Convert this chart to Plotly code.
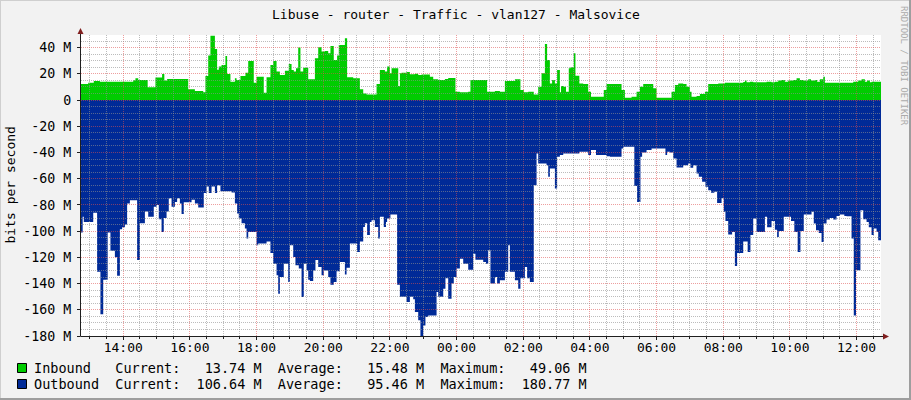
import pandas as pd
import plotly.graph_objects as go

# ---------------- data (values in Mbit/s, time in minutes after start) ----------------
START = pd.Timestamp("2024-05-14 12:44")
SPAN_MIN = 1440

in_min = [0, 13, 23, 34, 94, 98, 103, 120, 134, 146, 150, 155, 193, 205, 220, 224, 229, 233, 241, 245,
          248, 253, 260, 263, 269, 277, 280, 287, 296, 301, 311, 316, 329, 334, 341, 346, 352, 358, 367, 374,
          379, 383, 387, 391, 395, 400, 409, 421, 427, 433, 439, 445, 449, 455, 461, 464, 475, 479, 490, 502,
          508, 514, 532, 538, 547, 551, 556, 559, 571, 574, 577, 586, 592, 601, 607, 613, 628, 634, 643, 655,
          661, 674, 682, 697, 701, 731, 745, 754, 763, 781, 791, 797, 805, 815, 823, 829, 835, 839, 844, 848,
          853, 857, 862, 864, 869, 873, 878, 881, 887, 890, 897, 904, 913, 918, 941, 946, 973, 979, 991, 1000,
          1006, 1012, 1030, 1036, 1063, 1069, 1075, 1084, 1090, 1096, 1099, 1108, 1114, 1123, 1129, 1147, 1159, 1192, 1195, 1198,
          1204, 1210, 1234, 1243, 1249, 1255, 1261, 1267, 1273, 1282, 1288, 1294, 1300, 1309, 1314, 1321, 1325, 1330, 1336, 1339,
          1390, 1399, 1405, 1411, 1415, 1420, 1423, 1440]
in_val = [12.2, 13.2, 14.5, 14.0, 15.0, 16.6, 15.3, 9.7, 17.1, 19.9, 14.8, 16.0, 8.2, 6.9, 6.0, 18.3, 34.0, 49.0, 39.0, 23.0,
          25.5, 26.7, 33.6, 19.9, 14.0, 16.6, 15.3, 18.3, 20.9, 29.8, 13.2, 17.8, 5.6, 17.3, 26.7, 29.8, 21.7, 19.1, 22.4, 27.5,
          22.9, 21.7, 24.2, 40.0, 21.7, 24.7, 15.8, 31.8, 40.2, 37.0, 37.4, 35.7, 41.3, 30.6, 33.9, 42.0, 47.1, 17.3, 16.6, 8.2,
          5.0, 4.3, 12.2, 22.9, 21.7, 25.5, 20.4, 24.2, 10.7, 20.4, 20.9, 21.4, 19.6, 20.1, 19.1, 19.4, 17.8, 15.8, 15.3, 16.0,
          16.8, 6.4, 5.9, 6.4, 15.3, 6.4, 6.9, 6.4, 14.5, 15.8, 7.6, 5.9, 6.4, 4.3, 10.2, 20.4, 42.8, 30.6, 12.7, 15.3,
          12.7, 22.9, 5.9, 10.7, 10.2, 6.4, 24.2, 25.0, 35.7, 18.6, 12.7, 12.2, 6.4, 2.5, 7.6, 12.2, 7.6, 1.8, 2.5, 6.4,
          10.2, 12.2, 8.9, 1.8, 6.4, 11.5, 12.7, 12.2, 10.2, 6.4, 2.5, 3.0, 4.6, 6.4, 12.2, 12.7, 13.2, 13.7, 14.8, 13.5,
          14.0, 13.5, 14.0, 13.5, 14.0, 14.8, 15.3, 14.0, 14.8, 15.3, 16.6, 15.3, 14.8, 15.8, 14.8, 15.3, 14.0, 15.8, 17.8, 13.2,
          14.0, 14.8, 15.8, 14.0, 14.8, 13.5, 14.0, 13.7]

out_min = [0, 3, 5, 22, 29, 35, 40, 48, 53, 61, 65, 70, 74, 79, 83, 88, 101, 106, 115, 121,
           131, 136, 140, 145, 149, 154, 158, 163, 169, 173, 178, 181, 185, 199, 205, 211, 221, 226, 230, 235,
           241, 245, 251, 271, 277, 281, 284, 289, 295, 298, 301, 316, 319, 334, 341, 346, 352, 355, 358, 365,
           373, 376, 382, 386, 392, 397, 401, 406, 409, 412, 418, 422, 427, 433, 437, 445, 449, 455, 460, 466,
           475, 478, 484, 497, 502, 508, 511, 515, 520, 523, 529, 535, 538, 545, 549, 551, 557, 569, 574, 586,
           592, 598, 601, 607, 611, 616, 620, 625, 640, 643, 652, 656, 661, 667, 671, 676, 682, 688, 697, 706,
           710, 724, 729, 733, 737, 745, 749, 754, 763, 769, 772, 781, 787, 791, 799, 803, 808, 815, 820, 823,
           838, 841, 844, 853, 857, 862, 868, 897, 913, 918, 927, 946, 952, 973, 976, 996, 1001, 1007, 1010, 1018,
           1027, 1052, 1055, 1060, 1066, 1072, 1084, 1093, 1097, 1102, 1108, 1112, 1118, 1124, 1129, 1134, 1140, 1145, 1153, 1157,
           1160, 1165, 1172, 1177, 1181, 1192, 1200, 1205, 1210, 1216, 1231, 1235, 1243, 1249, 1253, 1256, 1265, 1278, 1284, 1290,
           1295, 1301, 1315, 1319, 1323, 1328, 1333, 1337, 1342, 1348, 1354, 1360, 1366, 1374, 1378, 1387, 1391, 1395, 1403, 1408,
           1414, 1418, 1423, 1427, 1432, 1435, 1440]
out_val = [-101, -89, -93, -86, -131, -163.5, -137, -101, -115, -120, -134, -98.6, -97, -95, -79, -76.4, -122, -94, -85, -89,
           -81.5, -80, -91, -100.6, -90, -85, -75, -81.5, -77.7, -75, -79, -87, -78, -76, -79, -82, -71, -66, -71, -66,
           -71, -65, -69.5, -70.5, -79, -86.6, -90.4, -94, -98, -105.7, -100.6, -110.8, -109.5, -108, -116.7, -124.8, -133.7, -147.7, -135, -124.8,
           -138.8, -110.8, -119.7, -126, -128.6, -150.3, -124.8, -130, -137, -138, -130, -122, -127.4, -133.7, -130, -135, -140.9, -138.8, -130.7, -123.5,
           -133, -128, -109.5, -115.9, -108, -96.8, -94, -103, -93, -91.7, -96.8, -105.7, -89, -96.8, -93, -90.4, -87.4, -141, -150, -154,
           -150, -152, -161.7, -168, -180.8, -172, -165.6, -164.3, -146.5, -150, -143.9, -136, -151.6, -140, -135, -128.6, -121, -124.8, -129.4, -117.2,
           -121.8, -123.5, -124.8, -114.6, -140, -135, -140, -137.5, -131, -110.8, -131, -137.5, -143.9, -136, -127.4, -136, -138.8, -65, -40.8, -48.4,
           -49.7, -58.6, -52.2, -67.5, -43.3, -42, -40.8, -39.5, -42, -38.2, -42, -42.8, -43.3, -37, -35.7, -65.5, -77.7, -43.3, -40, -38.2,
           -37, -42, -39.5, -40, -44.6, -51.5, -49.7, -48.4, -51.7, -49.7, -56, -58.6, -62.4, -66.2, -68.8, -70.8, -70, -78.5, -75, -85.3,
           -92.2, -102.6, -100.6, -126.6, -116.7, -108, -115.9, -103, -90.4, -100.6, -89, -97, -92.2, -99, -104.4, -100, -89, -92.2, -100.6, -115.9,
           -100, -87.4, -85.3, -94.2, -99.3, -101.4, -108.3, -94.2, -91.2, -90, -91.2, -88.5, -87.4, -88.5, -88.7, -105.7, -164.3, -129.9, -84, -90.9,
           -93, -97, -103, -98, -100.6, -107, -107]

y_tick_vals = [-180, -160, -140, -120, -100, -80, -60, -40, -20, 0, 20, 40]
y_tick_text = ["-180 M", "-160 M", "-140 M", "-120 M", "-100 M", "-80 M", "-60 M", "-40 M", "-20 M", "0", "20 M", "40 M"]

title_text = "Libuse - router - Traffic - vlan127 - Malsovice"
legend_rows = [
    ("Inbound", "#00CC00", "13.74", "15.48", "49.06"),
    ("Outbound", "#002A97", "106.64", "95.46", "180.77"),
]

# ---------------- layout geometry ----------------
W, H = 911, 400
L, R, T, B = 81, 881, 35, 336
Y_TOP = 49.6
MONO = "DejaVu Sans Mono"


def px(x):
    return (x - L) / (R - L)


def py(y):
    return (B - y) / (B - T)


def crisp(v):
    return round(v - 0.5) + 0.5


END = START + pd.Timedelta(minutes=SPAN_MIN)
in_t = START + pd.to_timedelta(in_min, unit="min")
out_t = START + pd.to_timedelta(out_min, unit="min")

fig = go.Figure()
fig.add_trace(go.Scatter(x=in_t, y=in_val, mode="lines", line=dict(width=0, shape="hv", color="#00CC00"),
                         fill="tozeroy", fillcolor="#00CC00", hoverinfo="skip", showlegend=False))
fig.add_trace(go.Scatter(x=out_t, y=out_val, mode="lines", line=dict(width=0, shape="hv", color="#002A97"),
                         fill="tozeroy", fillcolor="#002A97", hoverinfo="skip", showlegend=False))

shapes = []
MINOR = "rgba(143,143,143,0.6)"
MAJOR = "rgba(222,79,79,0.55)"
DASH = "1px,1px"
t = START.ceil("30min")
while t < END:
    major = t.minute == 0 and t.hour % 2 == 0
    gx = crisp(L + (t - START) / pd.Timedelta(minutes=SPAN_MIN) * (R - L))
    shapes.append(dict(type="line", xref="paper", yref="paper", x0=px(gx), x1=px(gx), y0=0, y1=1, layer="above",
                       line=dict(color=MAJOR if major else MINOR, width=1, dash=DASH)))
    t += pd.Timedelta(minutes=30)
for v in range(-175, 50, 5):
    gy = crisp(T + (Y_TOP - v) / (Y_TOP + 180) * (B - T))
    shapes.append(dict(type="line", xref="paper", yref="paper", x0=0, x1=1, y0=py(gy), y1=py(gy), layer="above",
                       line=dict(color=MAJOR if v % 20 == 0 else MINOR, width=1, dash=DASH)))

AX = "#1f1f1f"
ARROW = "#801f1f"
# axis lines
shapes.append(dict(type="line", xref="paper", yref="paper", x0=px(80.5), x1=px(80.5), y0=py(336.5), y1=py(31),
                   layer="above", line=dict(color=AX, width=1)))
shapes.append(dict(type="line", xref="paper", yref="paper", x0=px(80.5), x1=px(885), y0=py(336.5), y1=py(336.5),
                   layer="above", line=dict(color=AX, width=1)))
# arrows
shapes.append(dict(type="path", xref="paper", yref="paper", layer="above",
                   path=f"M {px(77.5)} {py(34)} L {px(80.5)} {py(28)} L {px(83.5)} {py(34)} Z",
                   fillcolor=ARROW, line=dict(color=ARROW, width=0)))
shapes.append(dict(type="path", xref="paper", yref="paper", layer="above",
                   path=f"M {px(883)} {py(333.5)} L {px(889)} {py(336.5)} L {px(883)} {py(339.5)} Z",
                   fillcolor=ARROW, line=dict(color=ARROW, width=0)))
# frame shading
shapes.append(dict(type="line", xref="paper", yref="paper", x0=px(0), x1=px(911), y0=py(0.5), y1=py(0.5),
                   line=dict(color="#cfcfcf", width=1)))
shapes.append(dict(type="line", xref="paper", yref="paper", x0=px(0.5), x1=px(0.5), y0=py(0), y1=py(400),
                   line=dict(color="#cfcfcf", width=1)))
shapes.append(dict(type="line", xref="paper", yref="paper", x0=px(0), x1=px(911), y0=py(399), y1=py(399),
                   line=dict(color="#9e9e9e", width=2)))
shapes.append(dict(type="line", xref="paper", yref="paper", x0=px(910), x1=px(910), y0=py(0), y1=py(400),
                   line=dict(color="#9e9e9e", width=2)))

annotations = [
    dict(text=title_text, xref="paper", yref="paper", x=px(455.5), y=py(14), showarrow=False,
         xanchor="center", yanchor="middle", font=dict(family=MONO, size=13, color="#000000")),
    dict(text="bits per second", xref="paper", yref="paper", x=px(10), y=py(185.5), showarrow=False,
         textangle=-90, xanchor="center", yanchor="middle", font=dict(family=MONO, size=13, color="#000000")),
    dict(text="RRDTOOL / TOBI OETIKER", xref="paper", yref="paper", x=px(904), y=py(66), showarrow=False,
         textangle=90, xanchor="center", yanchor="middle", font=dict(family=MONO, size=9, color="#aaaaaa")),
]

row_y = [368, 384]
for (name, col, cur, avg, mx), yy in zip(legend_rows, row_y):
    txt = (f"{name:<10s}Current:{cur:>8s} M  Average:{avg:>8s} M  Maximum:{mx:>8s} M").replace(" ", "\u00a0")
    annotations.append(dict(text=txt, xref="paper", yref="paper", x=px(32), y=py(yy), showarrow=False,
                            xanchor="left", yanchor="middle", font=dict(family=MONO, size=13.5, color="#000000")))
    shapes.append(dict(type="rect", xref="paper", yref="paper", x0=px(17.5), x1=px(26.5), y0=py(yy - 4.5),
                       y1=py(yy + 4.5), fillcolor=col, line=dict(color="#000000", width=1)))

fig.update_layout(
    width=W, height=H,
    margin=dict(l=L, r=W - R, t=T, b=H - B, pad=0),
    paper_bgcolor="#f2f2f2", plot_bgcolor="#ffffff",
    showlegend=False,
    shapes=shapes, annotations=annotations,
    xaxis=dict(type="date", range=[START, END], tickformat="%H:%M", dtick=7200000,
               tick0=START.normalize() + pd.Timedelta(hours=14),
               showgrid=False, zeroline=False, showline=False, ticks="outside", ticklen=3, tickcolor=AX,
               ticklabelstandoff=-4,
               tickfont=dict(family=MONO, size=13, color="#000000"),
               minor=dict(dtick=1800000, ticks="outside", ticklen=2, tickcolor=AX, showgrid=False)),
    yaxis=dict(range=[-180, Y_TOP], tickmode="array", tickvals=y_tick_vals, ticktext=y_tick_text,
               showgrid=False, zeroline=False, showline=False, ticks="outside", ticklen=3, tickcolor=AX,
               ticklabelstandoff=3,
               tickfont=dict(family=MONO, size=13.3, color="#000000")),
)

fig.write_html("out.html", config={"displayModeBar": False},
               post_script="document.body.style.margin='0';document.body.style.overflow='hidden';")
